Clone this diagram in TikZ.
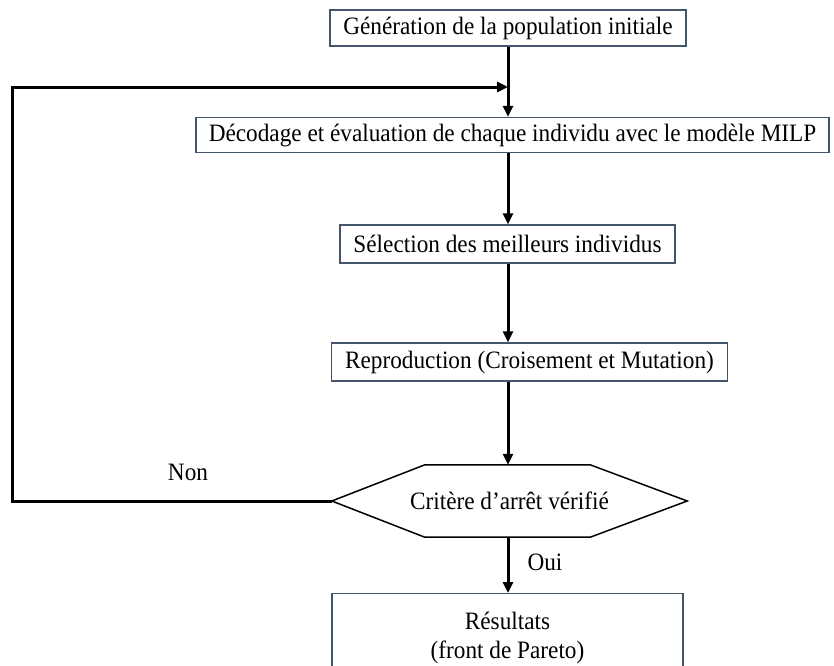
\documentclass[tikz,border=0pt]{standalone}
\usepackage{fontspec}
\setmainfont{Liberation Serif}[FakeStretch=0.93]
\usetikzlibrary{arrows.meta,calc}

\definecolor{boxline}{HTML}{44546A}

\tikzset{
  txt/.style={font=\fontsize{25}{29}\selectfont},
  stepbox/.style={txt, draw=boxline, line width=1.3pt, fill=white, inner sep=0pt,
    minimum height=36pt, align=center},
  flow/.style={line width=3pt, -{Triangle[length=11pt,width=10pt]}},
  lbl/.style={txt, inner sep=0pt}
}

\begin{document}
\begin{tikzpicture}[x=1pt,y=-1pt]
  \useasboundingbox (0,0) rectangle (834,665);
  \clip (0,0) rectangle (834,665);

  % process steps
  \node[stepbox, minimum width=356pt] (gen) at (508,28) {Génération de la population initiale};
  \node[stepbox, minimum width=633pt, minimum height=35pt] (dec) at (512.5,135) {Décodage et évaluation de chaque individu avec le modèle MILP};
  \node[stepbox, minimum width=335pt, minimum height=38pt] (sel) at (507.5,244) {Sélection des meilleurs individus};
  \node[stepbox, minimum width=396pt, minimum height=38pt] (rep) at (529.5,362) {Reproduction (Croisement et Mutation)};

  % decision (hexagon drawn around an invisible node)
  \node[lbl, minimum width=355pt, minimum height=72pt] (crit) at (509.5,501) {Critère d’arrêt vérifié};
  \draw[line width=1.5pt, line join=miter]
    (crit.west) -- ($(crit.north west)+(93,0)$) -- ($(crit.north east)+(-97,0)$)
    -- (crit.east) -- ($(crit.south east)+(-97,0)$) -- ($(crit.south west)+(93,0)$) -- cycle;

  % final result box, running past the lower edge
  \node[stepbox, minimum width=351pt, anchor=north] (res) at (507.5,593)
    {\rule{0pt}{36pt}Résultats\\(front de Pareto)\rule[-40pt]{0pt}{40pt}};

  % connectors
  \coordinate (join) at (508,87);
  \coordinate (loopL) at (12,501);
  \draw[flow] (gen.south -| join) -- (dec.north -| join);
  \draw[flow] (dec.south -| join) -- (sel.north -| join);
  \draw[flow] (sel.south -| join) -- (rep.north -| join);
  \draw[flow] (rep.south -| join) -- (crit.north -| join);
  \draw[flow] (crit.south -| join) -- (res.north -| join)
    node[lbl, midway, right=18pt, yshift=3pt] (oui) {Oui};
  \draw[flow] (crit.west) -- (loopL) |- (join);

  \node[lbl] (non) at (188,472) {Non};
\end{tikzpicture}
\end{document}
